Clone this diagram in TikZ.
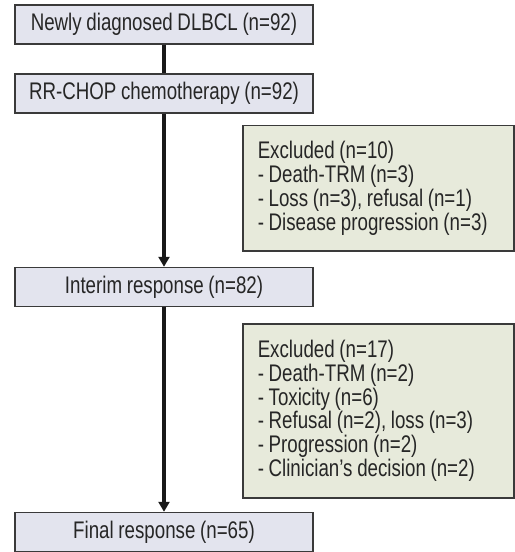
\documentclass[tikz,border=0pt]{standalone}
\usepackage{fontspec}
\setmainfont[FakeStretch=0.78,WordSpace=0.9]{Liberation Sans}
\usetikzlibrary{arrows.meta}
\definecolor{boxgray}{HTML}{E3E4EE}
\definecolor{boxgreen}{HTML}{E7EADB}
\definecolor{edge}{HTML}{3A3A3A}
\begin{document}
\begin{tikzpicture}[x=1bp,y=-1bp,
  mainbox/.style={draw=edge,line width=1.5bp,fill=boxgray,minimum width=298bp,minimum height=39bp,inner sep=0pt,font=\fontsize{24bp}{24bp}\selectfont,text=black!85},
  exclbox/.style={draw=edge,line width=1.5bp,fill=boxgreen,text width=241bp,inner xsep=15bp,inner ysep=10bp,align=flush left,anchor=north west,font=\fontsize{24bp}{23.8bp}\selectfont,text=black!85},
  flow/.style={line width=3.5bp,draw=black!90},
  flowarrow/.style={flow,-{Triangle[length=10bp,width=11bp]}}]
\useasboundingbox (0,0) rectangle (515,552);
\node[mainbox] (a) at (164,24.5) {Newly diagnosed DLBCL (n=92)};
\node[mainbox] (b) at (164,93.5) {RR-CHOP chemotherapy (n=92)};
\node[mainbox] (c) at (164,287) {Interim response (n=82)};
\node[mainbox] (d) at (164,532) {Final response (n=65)};
\node[exclbox,minimum height=125bp] (e1) at (242,125) {Excluded (n=10)\\- Death-TRM (n=3)\\- Loss (n=3), refusal (n=1)\\- Disease progression (n=3)};
\node[exclbox,minimum height=174bp] (e2) at (242,323) {Excluded (n=17)\\- Death-TRM (n=2)\\- Toxicity (n=6)\\- Refusal (n=2), loss (n=3)\\- Progression (n=2)\\- Clinician’s decision (n=2)};
\draw[flow] (a) -- (b);
\draw[flowarrow] (b) -- (c);
\draw[flowarrow] (c) -- (d);
\end{tikzpicture}
\end{document}
